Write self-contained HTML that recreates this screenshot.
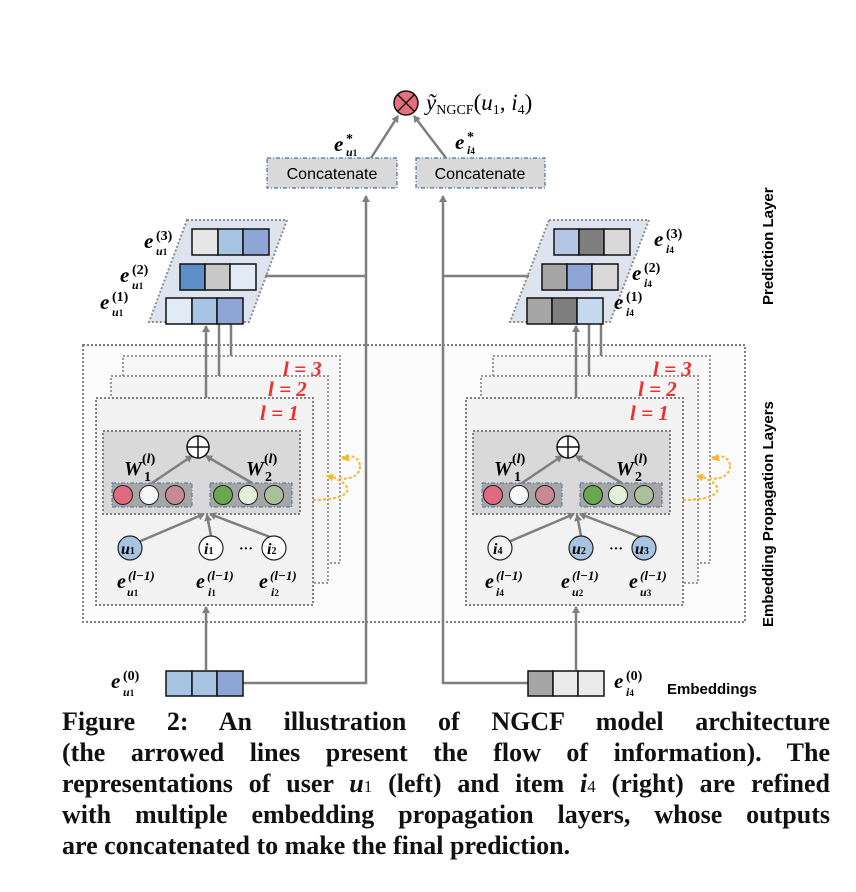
<!DOCTYPE html>
<html><head><meta charset="utf-8"><style>
html,body{margin:0;padding:0;background:#fff;}
body{width:856px;height:892px;position:relative;overflow:hidden;}
svg{position:absolute;left:0;top:0;}
.cap{position:absolute;left:62px;width:768px;font-family:"Liberation Serif",serif;font-weight:bold;font-size:26px;line-height:31px;top:706px;color:#111;}
.cap div{text-align:justify;text-align-last:justify;height:31px;white-space:nowrap;}
.cap div.last{text-align-last:left;}
</style></head><body>
<svg width="856" height="892" viewBox="0 0 856 892" font-family="Liberation Serif, serif">
<defs>
<marker id="ah" markerWidth="8" markerHeight="8" refX="6" refY="4" orient="auto" markerUnits="userSpaceOnUse"><path d="M0,0 L7,4 L0,8 Z" fill="#7f7f7f"/></marker>
<marker id="oh" markerWidth="8" markerHeight="8" refX="6" refY="4" orient="auto" markerUnits="userSpaceOnUse"><path d="M0,0 L7,4 L0,8 Z" fill="#f5b82e"/></marker>
<g id="blk">
  <rect x="123" y="356" width="217" height="207" fill="#f7f7f7" stroke="#9a9a9a" stroke-width="2" stroke-dasharray="2,2"/>
  <rect x="111" y="376" width="217" height="207" fill="#f4f4f4" stroke="#9a9a9a" stroke-width="2" stroke-dasharray="2,2"/>
  <rect x="96" y="398" width="217" height="207" fill="#f2f2f2" stroke="#808080" stroke-width="2" stroke-dasharray="2,2"/>
  <text x="283" y="376" font-size="21" font-weight="bold" font-style="italic" fill="#e8322f">l = 3</text>
  <text x="268" y="396" font-size="21" font-weight="bold" font-style="italic" fill="#e8322f">l = 2</text>
  <text x="260" y="420" font-size="21" font-weight="bold" font-style="italic" fill="#e8322f">l = 1</text>
  <rect x="103" y="431" width="197" height="83" fill="#d9d9d9" stroke="#808080" stroke-width="2" stroke-dasharray="2,2"/>
  <rect x="112" y="483" width="80" height="24" fill="#a6a6a6" stroke="#4a6fa5" stroke-width="1" stroke-dasharray="4,2,1,2"/>
  <rect x="210" y="483" width="82" height="24" fill="#a6a6a6" stroke="#4a6fa5" stroke-width="1" stroke-dasharray="4,2,1,2"/>
  <circle cx="123" cy="495" r="9.5" fill="#e06a7e" stroke="#222" stroke-width="1"/>
  <circle cx="149" cy="495" r="9.5" fill="#f8f8f8" stroke="#222" stroke-width="1"/>
  <circle cx="175" cy="495" r="9.5" fill="#c98a95" stroke="#222" stroke-width="1"/>
  <circle cx="223" cy="495" r="9.5" fill="#6aa84f" stroke="#222" stroke-width="1"/>
  <circle cx="248" cy="495" r="9.5" fill="#e2efd9" stroke="#222" stroke-width="1"/>
  <circle cx="274" cy="495" r="9.5" fill="#a9c09a" stroke="#222" stroke-width="1"/>
  <line x1="152" y1="483" x2="192" y2="456" stroke="#7f7f7f" stroke-width="2.5" marker-end="url(#ah)"/>
  <line x1="252" y1="483" x2="206" y2="456" stroke="#7f7f7f" stroke-width="2.5" marker-end="url(#ah)"/>
  <circle cx="198" cy="447" r="11" fill="#fff" stroke="#111" stroke-width="1.5"/>
  <line x1="187" y1="447" x2="209" y2="447" stroke="#111" stroke-width="1.5"/>
  <line x1="198" y1="436" x2="198" y2="458" stroke="#111" stroke-width="1.5"/>
  <text x="124" y="475" font-size="20" font-weight="bold" font-style="italic">W</text>
  <text x="142" y="463" font-size="14" font-weight="bold">(<tspan font-style="italic">l</tspan>)</text>
  <text x="144" y="481" font-size="14" font-weight="bold">1</text>
  <text x="246" y="475" font-size="20" font-weight="bold" font-style="italic">W</text>
  <text x="264" y="463" font-size="14" font-weight="bold">(<tspan font-style="italic">l</tspan>)</text>
  <text x="265" y="481" font-size="14" font-weight="bold">2</text>
  <line x1="136" y1="543" x2="204" y2="514" stroke="#7f7f7f" stroke-width="2.5" marker-end="url(#ah)"/>
  <line x1="211" y1="536" x2="207" y2="515" stroke="#7f7f7f" stroke-width="2.5" marker-end="url(#ah)"/>
  <line x1="270" y1="537" x2="210" y2="514" stroke="#7f7f7f" stroke-width="2.5" marker-end="url(#ah)"/>
  <text x="239" y="553" font-size="14" font-weight="bold">···</text>
  <path d="M313,500 C345,500 360,490 335,478 M360,465 C358,455 348,455 341,458" fill="none" stroke="#f5b82e" stroke-width="2" stroke-dasharray="3,2"/>
  <path d="M336,478 L327,476" stroke="#f5b82e" stroke-width="2" marker-end="url(#oh)"/>
  <path d="M360,466 C360,478 345,480 340,478" fill="none" stroke="#f5b82e" stroke-width="2" stroke-dasharray="3,2"/>
  <line x1="347" y1="458" x2="343" y2="459" stroke="#f5b82e" stroke-width="2" marker-end="url(#oh)"/>
  <line x1="206" y1="398" x2="206" y2="326" stroke="#7f7f7f" stroke-width="2.5" marker-end="url(#ah)"/>
  <line x1="219" y1="376" x2="219" y2="292" stroke="#7f7f7f" stroke-width="2.5" marker-end="url(#ah)"/>
  <line x1="231" y1="356" x2="231" y2="258" stroke="#7f7f7f" stroke-width="2.5" marker-end="url(#ah)"/>
  <line x1="206" y1="670" x2="206" y2="607" stroke="#7f7f7f" stroke-width="2.5" marker-end="url(#ah)"/>
</g>
</defs>

<rect x="83" y="345" width="662" height="277" fill="#fbfbfb" stroke="#808080" stroke-width="2" stroke-dasharray="2,2"/>

<use href="#blk"/>
<use href="#blk" transform="translate(370,0)"/>

<g font-weight="bold" font-style="italic">
<circle cx="130" cy="548" r="12" fill="#a7c4e2" stroke="#222" stroke-width="1.2"/>
<text x="121" y="554" font-size="16">u<tspan font-size="10" font-style="normal">1</tspan></text>
<circle cx="211" cy="548" r="12" fill="#fff" stroke="#222" stroke-width="1.2"/>
<text x="204" y="554" font-size="16">i<tspan font-size="10" font-style="normal">1</tspan></text>
<circle cx="274" cy="548" r="12" fill="#fff" stroke="#222" stroke-width="1.2"/>
<text x="267" y="554" font-size="16">i<tspan font-size="10" font-style="normal">2</tspan></text>
<text x="117" y="588" font-size="20">e</text><text x="128" y="580" font-size="13">(l−1)</text><text x="127" y="596" font-size="12">u<tspan font-style="normal" font-size="9">1</tspan></text>
<text x="196" y="588" font-size="20">e</text><text x="207" y="580" font-size="13">(l−1)</text><text x="208" y="596" font-size="12">i<tspan font-style="normal" font-size="9">1</tspan></text>
<text x="259" y="588" font-size="20">e</text><text x="270" y="580" font-size="13">(l−1)</text><text x="271" y="596" font-size="12">i<tspan font-style="normal" font-size="9">2</tspan></text>
<circle cx="500" cy="548" r="12" fill="#f2f2f2" stroke="#222" stroke-width="1.2"/>
<text x="493" y="554" font-size="16">i<tspan font-size="10" font-style="normal">4</tspan></text>
<circle cx="581" cy="548" r="12" fill="#a7c4e2" stroke="#222" stroke-width="1.2"/>
<text x="572" y="554" font-size="16">u<tspan font-size="10" font-style="normal">2</tspan></text>
<circle cx="644" cy="548" r="12" fill="#a7c4e2" stroke="#222" stroke-width="1.2"/>
<text x="635" y="554" font-size="16">u<tspan font-size="10" font-style="normal">3</tspan></text>
<text x="485" y="588" font-size="20">e</text><text x="496" y="580" font-size="13">(l−1)</text><text x="496" y="596" font-size="12">i<tspan font-style="normal" font-size="9">4</tspan></text>
<text x="561" y="588" font-size="20">e</text><text x="572" y="580" font-size="13">(l−1)</text><text x="572" y="596" font-size="12">u<tspan font-style="normal" font-size="9">2</tspan></text>
<text x="629" y="588" font-size="20">e</text><text x="640" y="580" font-size="13">(l−1)</text><text x="640" y="596" font-size="12">u<tspan font-style="normal" font-size="9">3</tspan></text>
</g>

<polygon points="187,220 287,220 249,322 149,322" fill="#dde4f0" stroke="#8c8c8c" stroke-width="2" stroke-dasharray="2,2"/>
<polygon points="549,220 649,220 610,322 510,322" fill="#dde4f0" stroke="#8c8c8c" stroke-width="2" stroke-dasharray="2,2"/>
<g stroke="#111" stroke-width="1.5">
<rect x="192" y="229" width="26" height="26" fill="#e6e6e6"/><rect x="218" y="229" width="25" height="26" fill="#a7c4e2"/><rect x="243" y="229" width="26" height="26" fill="#8fa5d6"/>
<rect x="180" y="264" width="25" height="26" fill="#5e8fc8"/><rect x="205" y="264" width="25" height="26" fill="#c8c8c8"/><rect x="230" y="264" width="26" height="26" fill="#e2ebf5"/>
<rect x="166" y="298" width="26" height="26" fill="#e2ebf5"/><rect x="192" y="298" width="25" height="26" fill="#a7c4e2"/><rect x="217" y="298" width="26" height="26" fill="#8fa5d6"/>
<rect x="554" y="229" width="25" height="26" fill="#b4c6e4"/><rect x="579" y="229" width="25" height="26" fill="#7f7f7f"/><rect x="604" y="229" width="26" height="26" fill="#d9d9d9"/>
<rect x="542" y="264" width="25" height="26" fill="#a6a6a6"/><rect x="567" y="264" width="25" height="26" fill="#8fa5d6"/><rect x="592" y="264" width="26" height="26" fill="#d9d9d9"/>
<rect x="527" y="298" width="25" height="26" fill="#a6a6a6"/><rect x="552" y="298" width="25" height="26" fill="#7f7f7f"/><rect x="577" y="298" width="26" height="26" fill="#c5d9ee"/>
</g>
<g font-weight="bold" font-style="italic">
<text x="144" y="248" font-size="21">e</text><text x="156" y="240" font-size="14" font-style="normal">(3)</text><text x="156" y="255" font-size="12">u<tspan font-style="normal" font-size="9">1</tspan></text>
<text x="120" y="282" font-size="21">e</text><text x="132" y="274" font-size="14" font-style="normal">(2)</text><text x="132" y="289" font-size="12">u<tspan font-style="normal" font-size="9">1</tspan></text>
<text x="100" y="309" font-size="21">e</text><text x="112" y="301" font-size="14" font-style="normal">(1)</text><text x="112" y="316" font-size="12">u<tspan font-style="normal" font-size="9">1</tspan></text>
<text x="654" y="246" font-size="21">e</text><text x="666" y="238" font-size="14" font-style="normal">(3)</text><text x="666" y="253" font-size="12">i<tspan font-style="normal" font-size="9">4</tspan></text>
<text x="632" y="280" font-size="21">e</text><text x="644" y="272" font-size="14" font-style="normal">(2)</text><text x="644" y="287" font-size="12">i<tspan font-style="normal" font-size="9">4</tspan></text>
<text x="614" y="309" font-size="21">e</text><text x="626" y="301" font-size="14" font-style="normal">(1)</text><text x="626" y="316" font-size="12">i<tspan font-style="normal" font-size="9">4</tspan></text>
</g>

<polyline points="243,683 366,683 366,196" fill="none" stroke="#7f7f7f" stroke-width="2.5" marker-end="url(#ah)"/>
<polyline points="528,683 443,683 443,196" fill="none" stroke="#7f7f7f" stroke-width="2.5" marker-end="url(#ah)"/>
<line x1="265" y1="276" x2="366" y2="276" stroke="#7f7f7f" stroke-width="2.5"/>
<line x1="443" y1="276" x2="529" y2="276" stroke="#7f7f7f" stroke-width="2.5"/>

<g stroke="#111" stroke-width="1.5">
<rect x="166" y="671" width="26" height="25" fill="#a7c4e2"/><rect x="192" y="671" width="25" height="25" fill="#a7c4e2"/><rect x="217" y="671" width="26" height="25" fill="#8fa5d6"/>
<rect x="528" y="671" width="25" height="25" fill="#a6a6a6"/><rect x="553" y="671" width="25" height="25" fill="#ebebeb"/><rect x="578" y="671" width="26" height="25" fill="#ebebeb"/>
</g>
<g font-weight="bold" font-style="italic">
<text x="111" y="688" font-size="21">e</text><text x="123" y="680" font-size="14" font-style="normal">(0)</text><text x="123" y="696" font-size="12">u<tspan font-style="normal" font-size="9">1</tspan></text>
<text x="614" y="688" font-size="21">e</text><text x="626" y="680" font-size="14" font-style="normal">(0)</text><text x="626" y="696" font-size="12">i<tspan font-style="normal" font-size="9">4</tspan></text>
</g>
<text x="667" y="694" font-family="Liberation Sans, sans-serif" font-weight="bold" font-size="15">Embeddings</text>

<rect x="267" y="158" width="130" height="30" fill="#d9d9d9" stroke="#4a6fa5" stroke-width="1.2" stroke-dasharray="4,2,1,2"/>
<rect x="416" y="158" width="129" height="30" fill="#d9d9d9" stroke="#4a6fa5" stroke-width="1.2" stroke-dasharray="4,2,1,2"/>
<text x="332" y="179" text-anchor="middle" font-family="Liberation Sans, sans-serif" font-size="16">Concatenate</text>
<text x="480" y="179" text-anchor="middle" font-family="Liberation Sans, sans-serif" font-size="16">Concatenate</text>
<line x1="371" y1="158" x2="398" y2="116" stroke="#7f7f7f" stroke-width="2.5" marker-end="url(#ah)"/>
<line x1="446" y1="158" x2="414" y2="116" stroke="#7f7f7f" stroke-width="2.5" marker-end="url(#ah)"/>
<g font-weight="bold" font-style="italic">
<text x="334" y="151" font-size="21">e</text><text x="346" y="143" font-size="14" font-style="normal">*</text><text x="346" y="156" font-size="12">u<tspan font-style="normal" font-size="9">1</tspan></text>
<text x="455" y="149" font-size="21">e</text><text x="467" y="141" font-size="14" font-style="normal">*</text><text x="467" y="154" font-size="12">i<tspan font-style="normal" font-size="9">4</tspan></text>
</g>
<circle cx="406" cy="103" r="12" fill="#e8707e" stroke="#111" stroke-width="1.5"/>
<line x1="398" y1="95" x2="414" y2="111" stroke="#111" stroke-width="1.5"/>
<line x1="414" y1="95" x2="398" y2="111" stroke="#111" stroke-width="1.5"/>
<text x="426" y="110" font-size="23"><tspan font-style="italic">ỹ</tspan><tspan font-size="14" dy="4">NGCF</tspan><tspan dy="-4">(</tspan><tspan font-style="italic">u</tspan><tspan font-size="14" dy="4">1</tspan><tspan dy="-4">, </tspan><tspan font-style="italic">i</tspan><tspan font-size="14" dy="4">4</tspan><tspan dy="-4">)</tspan></text>

<text transform="translate(773,305) rotate(-90)" font-family="Liberation Sans, sans-serif" font-weight="bold" font-size="15">Prediction Layer</text>
<text transform="translate(773,627) rotate(-90)" font-family="Liberation Sans, sans-serif" font-weight="bold" font-size="15">Embedding Propagation Layers</text>
</svg>
<div class="cap">
<div>Figure 2: An illustration of NGCF model architecture</div>
<div>(the arrowed lines present the flow of information). The</div>
<div>representations of user <i>u</i><span style="font-weight:normal;font-size:17px">1</span> (left) and item <i>i</i><span style="font-weight:normal;font-size:17px">4</span> (right) are refined</div>
<div>with multiple embedding propagation layers, whose outputs</div>
<div class="last">are concatenated to make the final prediction.</div>
</div>
</body></html>
